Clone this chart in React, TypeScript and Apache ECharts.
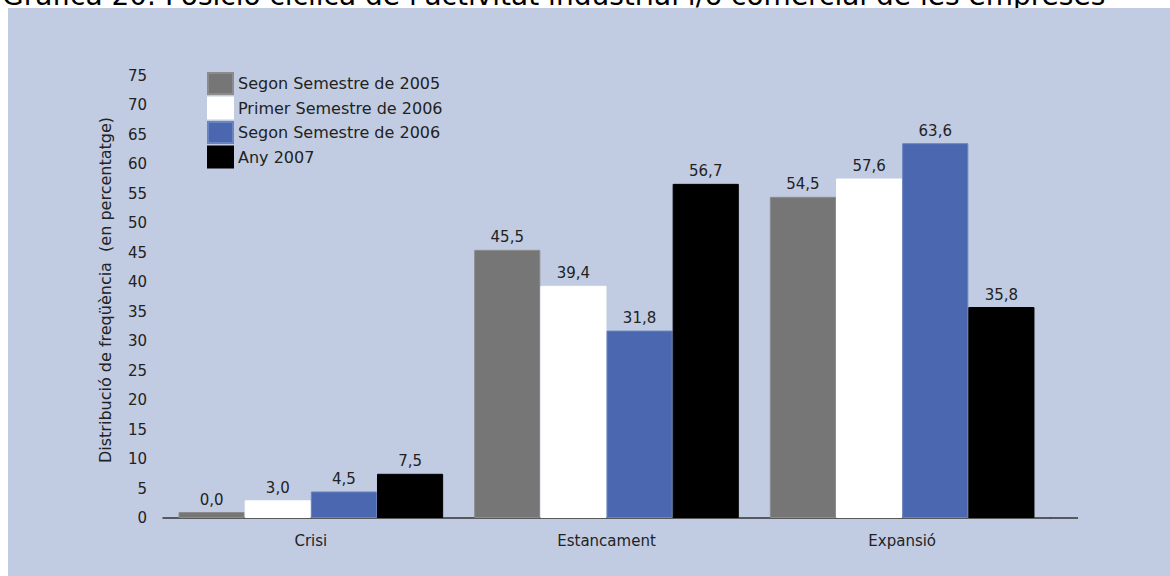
import React, { useEffect, useRef } from "react";
import * as echarts from "echarts";

const categories = ["Crisi", "Estancament", "Expansió"];
const seriesNames = [
  "Segon Semestre de 2005",
  "Primer Semestre de 2006",
  "Segon Semestre de 2006",
  "Any 2007",
];
const s2005b = [0.0, 45.5, 54.5];
const s2006a = [3.0, 39.4, 57.6];
const s2006b = [4.5, 31.8, 63.6];
const s2007 = [7.5, 56.7, 35.8];
const seriesValues = [s2005b, s2006a, s2006b, s2007];
const colors = ["#767676", "#ffffff", "#4a67b0", "#000000"];
const borders = ["#8c8c8c", "#ffffff", "#6a84c0", "#000000"];
const titleText =
  "Gràfica 20. Posició cíclica de l'activitat industrial i/o comercial de les empreses";
const yTitle = "Distribució de freqüència  (en percentatge)";

const FONT = "DejaVu Sans, Verdana, sans-serif";

export default function App() {
  const ref = useRef<HTMLDivElement>(null);
  useEffect(() => {
    if (!ref.current) return;
    const chart = echarts.init(ref.current, null, { renderer: "svg" });
    chart.setOption({
      animation: false,
      backgroundColor: "#ffffff",
      textStyle: { fontFamily: FONT },
      graphic: [
        {
          type: "text",
          x: 2,
          y: 9,
          z: -20,
          style: {
            text: titleText,
            fill: "#000",
            font: `28px ${FONT}`,
            textAlign: "left",
            textVerticalAlign: "bottom",
          },
        },
        {
          type: "rect",
          z: -10,
          silent: true,
          shape: { x: 8, y: 8, width: 1162, height: 568 },
          style: { fill: "#c1cce3" },
        },
        {
          type: "line",
          shape: { x1: 1050, y1: 518, x2: 1078, y2: 518 },
          style: { stroke: "#333", lineWidth: 1.5 },
        },
        {
          type: "text",
          x: 105,
          y: 290,
          rotation: Math.PI / 2,
          style: {
            text: yTitle,
            fill: "#222",
            font: `16px ${FONT}`,
            textAlign: "center",
            textVerticalAlign: "middle",
          },
        },
      ],
      legend: {
        orient: "vertical",
        left: 202,
        top: 67,
        itemWidth: 25,
        itemHeight: 21,
        itemGap: 1.5,
        data: seriesNames,
        textStyle: { fontSize: 16, lineHeight: 21, color: "#222", fontFamily: FONT },
        icon: "rect",
      },
      grid: { left: 163, right: 120, top: 76, bottom: 58, containLabel: false },
      xAxis: {
        type: "category",
        data: categories,
        axisLine: { lineStyle: { color: "#333", width: 1.5 } },
        axisTick: { show: false },
        axisLabel: { fontSize: 15, color: "#222", margin: 15, fontFamily: FONT },
      },
      yAxis: {
        type: "value",
        min: 0,
        max: 75,
        interval: 5,
        splitLine: { show: false },
        axisLine: { show: false },
        axisTick: { show: false },
        axisLabel: { fontSize: 15, color: "#222", margin: 16, fontFamily: FONT },
      },
      series: seriesValues.map((vals, i) => ({
        type: "bar",
        name: seriesNames[i],
        data: vals,
        barGap: "0%",
        barCategoryGap: "10.5%",
        barMinHeight: 6,
        itemStyle: { color: colors[i], borderColor: borders[i], borderWidth: 1 },
        label: {
          show: true,
          position: "top",
          distance: 5,
          fontSize: 15,
          color: "#222",
          fontFamily: FONT,
          formatter: (p: any) => Number(p.value).toFixed(1).replace(".", ","),
        },
      })),
    });
    return () => chart.dispose();
  }, []);
  return (
    <div
      ref={ref}
      style={{ position: "absolute", left: 0, top: 0, width: 1170, height: 576 }}
    />
  );
}
